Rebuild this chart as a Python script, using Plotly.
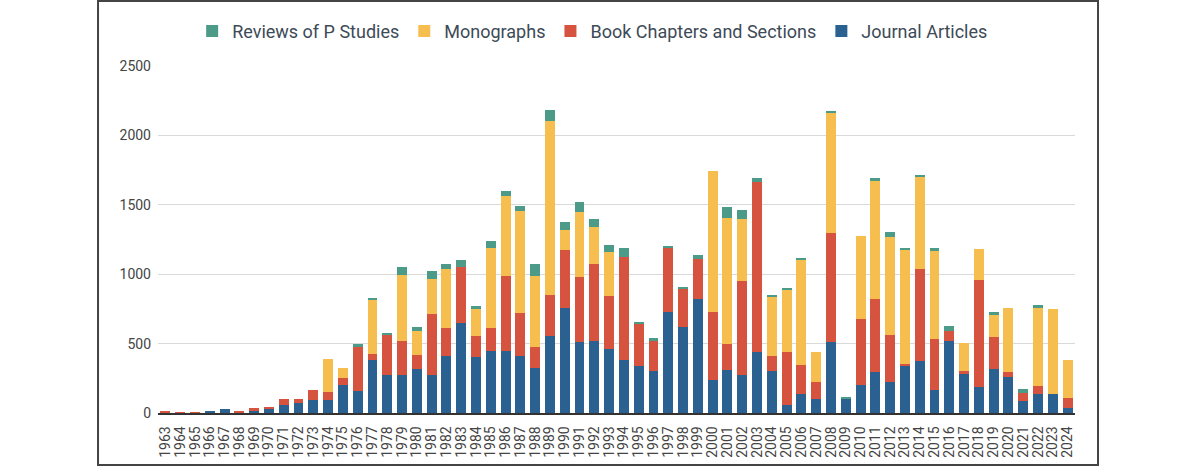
import plotly.graph_objects as go

# Publication counts per year
years = [str(y) for y in range(1963, 2025)]

journal_articles = [
    2, 1, 0, 12, 29, 2, 14, 26, 55, 72,
    96, 96, 204, 161, 382, 271, 271, 314, 271, 413,
    648, 403, 446, 446, 413, 322, 554, 754, 514, 521,
    461, 379, 336, 302, 730, 622, 821, 238, 312, 271,
    439, 302, 55, 139, 98, 514, 108, 204, 298, 221,
    338, 372, 163, 521, 281, 187, 314, 262, 86, 139,
    139, 38,
]
book_chapters = [
    8, 1, 5, 0, 0, 10, 24, 20, 48, 31,
    67, 58, 50, 317, 40, 293, 250, 106, 442, 199,
    401, 151, 166, 543, 309, 156, 293, 417, 468, 552,
    379, 742, 310, 219, 460, 276, 285, 492, 185, 677,
    1227, 111, 384, 207, 123, 784, 0, 475, 523, 343,
    17, 667, 367, 67, 24, 768, 233, 33, 60, 58,
    0, 68,
]
monographs = [
    0, 0, 0, 0, 0, 0, 0, 0, 0, 0,
    0, 232, 72, 0, 399, 0, 475, 168, 252, 427,
    0, 192, 576, 576, 735, 511, 1258, 151, 465, 264,
    322, 0, 0, 0, 0, 0, 0, 1010, 909, 449,
    0, 427, 451, 760, 218, 860, 0, 593, 852, 701,
    826, 660, 634, 0, 199, 226, 159, 459, 0, 557,
    607, 273,
]
reviews = [
    0, 0, 0, 0, 0, 0, 0, 0, 0, 0,
    0, 0, 0, 16, 9, 10, 53, 34, 57, 31,
    55, 24, 50, 31, 33, 81, 77, 51, 70, 60,
    52, 67, 9, 17, 8, 9, 32, 0, 75, 69,
    24, 10, 10, 10, 0, 16, 7, 0, 17, 41,
    7, 17, 24, 41, 0, 0, 24, 0, 24, 26,
    0, 0,
]

y_ticks = [0, 500, 1000, 1500, 2000, 2500]

series = [
    ("Journal Articles", journal_articles, "#2a6190"),
    ("Book Chapters and Sections", book_chapters, "#d5533f"),
    ("Monographs", monographs, "#f5be4e"),
    ("Reviews of P Studies", reviews, "#4c9a88"),
]

fig = go.Figure()
for name, vals, color in series:
    fig.add_trace(go.Bar(x=years, y=vals, name=name, marker_color=color,
                         marker_line_width=0))

fig.update_layout(
    barmode="stack",
    bargap=0.33,
    width=1200,
    height=467,
    margin=dict(l=158, r=125, t=66, b=54, autoexpand=False),
    paper_bgcolor="white",
    plot_bgcolor="white",
    font=dict(family="Roboto", size=14, color="#444444"),
    legend=dict(orientation="h", traceorder="reversed",
                x=0.474, xanchor="center", y=1.1, yanchor="middle",
                bgcolor="rgba(0,0,0,0)",
                font=dict(size=18, color="#3d4a57"),
                itemwidth=30),
    xaxis=dict(type="category", tickangle=-90, showgrid=False,
               tickmode="linear", dtick=1, automargin=False,
               ticklabelstandoff=6,
               showline=True, linecolor="#333333", linewidth=1.5,
               ticks="", tickfont=dict(size=14, color="#444444")),
    yaxis=dict(range=[0, 2500], tickvals=y_ticks, showgrid=True,
               automargin=False, ticklabelstandoff=6,
               gridcolor="#d9d9d9", gridwidth=1, zeroline=False,
               ticks="", ticklen=0, tickfont=dict(size=14, color="#444444")),
    shapes=[dict(type="rect", xref="paper", yref="paper",
                 x0=-0.0654, x1=1.0251, y0=-0.1499, y1=1.187,
                 line=dict(color="#444444", width=2))],
)

# drop the browser's default body margin so the figure sits at the page corner
fig.write_html("out.html", config={"displayModeBar": False},
               post_script="document.body.style.margin='0';")
